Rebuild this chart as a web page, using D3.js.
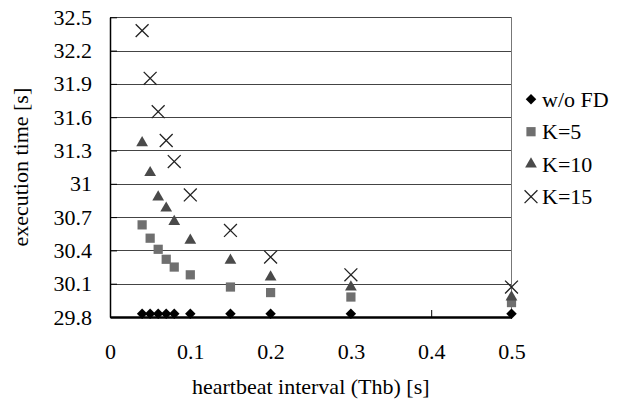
<!DOCTYPE html>
<head>
<meta charset="utf-8">
<script src="https://d3js.org/d3.v7.min.js"></script>
</head>
<style>
body { margin: 0; background: #fff; }
text { font-family: "Liberation Serif", "Times New Roman", serif; fill: #000; }
.grid line { stroke: #444; stroke-width: 1px; }
</style>
<body>
<script>
// data
var intervals = [0.04, 0.05, 0.06, 0.07, 0.08, 0.1, 0.15, 0.2, 0.3, 0.5];
var woFD = [29.83, 29.83, 29.83, 29.83, 29.83, 29.83, 29.83, 29.83, 29.83, 29.83];
var k5   = [30.63, 30.51, 30.41, 30.32, 30.25, 30.18, 30.07, 30.02, 29.98, 29.93];
var k10  = [31.37, 31.10, 30.88, 30.78, 30.66, 30.49, 30.31, 30.16, 30.07, 29.98];
var k15  = [32.38, 31.95, 31.65, 31.39, 31.20, 30.90, 30.58, 30.34, 30.18, 30.07];
var seriesNames = ["w/o FD", "K=5", "K=10", "K=15"];
var yTicks = [29.8, 30.1, 30.4, 30.7, 31, 31.3, 31.6, 31.9, 32.2, 32.5];
var xTicks = [0, 0.1, 0.2, 0.3, 0.4, 0.5];

var width = 618, height = 401;
var pL = 110, pR = 511.5, pT = 17.3, pB = 317;

var x = d3.scaleLinear().domain([0, 0.5]).range([pL, pR]);
var y = d3.scaleLinear().domain([29.8, 32.5]).range([pB, pT]);

var svg = d3.select("body").append("svg")
    .attr("width", width)
    .attr("height", height);

// horizontal grid lines
svg.append("g")
    .attr("class", "grid")
  .selectAll("line")
    .data(yTicks.slice(1))
  .enter().append("line")
    .attr("x1", pL).attr("x2", pR)
    .attr("y1", function(d) { return Math.round(y(d)) + 0.5; })
    .attr("y2", function(d) { return Math.round(y(d)) + 0.5; });

// right border
svg.append("line")
    .attr("x1", pR).attr("x2", pR)
    .attr("y1", pT).attr("y2", pB)
    .attr("stroke", "#777").attr("stroke-width", 1);

// left axis
var yAxis = svg.append("g")
    .attr("transform", "translate(" + pL + ",0)")
    .call(d3.axisLeft(y).tickValues(yTicks).tickSizeInner(-7).tickSizeOuter(0)
        .tickPadding(18).tickFormat(function(d) { return String(d); }));
yAxis.select(".domain").attr("stroke", "#000").attr("stroke-width", 1.5);
yAxis.selectAll(".tick line").attr("stroke", "#000");
yAxis.selectAll("text").style("font-size", "22px").attr("fill", "#000")
    .style("font-family", "Liberation Serif");

// bottom axis
var xAxis = svg.append("g")
    .attr("transform", "translate(0," + pB + ")")
    .call(d3.axisBottom(x).tickValues(xTicks).tickSizeInner(-7).tickSizeOuter(0)
        .tickPadding(26).tickFormat(function(d) { return String(d); }));
xAxis.select(".domain").attr("stroke", "#000").attr("stroke-width", 2.5);
xAxis.selectAll(".tick line").attr("stroke", "#000");
xAxis.selectAll("text").style("font-size", "22px").attr("fill", "#000")
    .style("font-family", "Liberation Serif");

// markers
var diamond = d3.symbol().type(d3.symbolDiamond2).size(70);
var square = d3.symbol().type(d3.symbolSquare).size(85);
var triangle = d3.symbol().type(d3.symbolTriangle).size(60);
var cross = d3.symbol().type(d3.symbolX).size(110);

function drawSeries(vals, sym, fill, stroke) {
  svg.append("g").selectAll("path")
      .data(vals)
    .enter().append("path")
      .attr("transform", function(d, i) { return "translate(" + x(intervals[i]) + "," + y(d) + ")"; })
      .attr("d", sym)
      .attr("fill", fill)
      .attr("stroke", stroke)
      .attr("stroke-width", stroke == "none" ? 0 : 1.3);
}
drawSeries(k5, square, "#6f6f6f", "none");
drawSeries(k10, triangle, "#4a4a4a", "none");
drawSeries(k15, cross, "none", "#222");
drawSeries(woFD, diamond, "#000", "none");

// legend
var legendY = [99.3, 131.7, 164, 196.7];
var legendSyms = [diamond, square, triangle, cross];
var legendFill = ["#000", "#6f6f6f", "#4a4a4a", "none"];
var legendStroke = ["none", "none", "none", "#222"];
var legend = svg.append("g");
seriesNames.forEach(function(name, i) {
  legend.append("path")
      .attr("transform", "translate(531," + legendY[i] + ")")
      .attr("d", legendSyms[i])
      .attr("fill", legendFill[i])
      .attr("stroke", legendStroke[i])
      .attr("stroke-width", legendStroke[i] == "none" ? 0 : 1.3);
  legend.append("text")
      .attr("x", 542)
      .attr("y", legendY[i])
      .attr("dy", "0.35em")
      .style("font-size", "22px")
      .text(name);
});

// axis titles
svg.append("text")
    .attr("x", (pL + pR) / 2)
    .attr("y", 394)
    .attr("text-anchor", "middle")
    .style("font-size", "22px")
    .text("heartbeat interval (Thb) [s]");

svg.append("text")
    .attr("transform", "translate(28," + ((pT + pB) / 2) + ") rotate(-90)")
    .attr("text-anchor", "middle")
    .style("font-size", "22px")
    .text("execution time [s]");
</script>
</body>
